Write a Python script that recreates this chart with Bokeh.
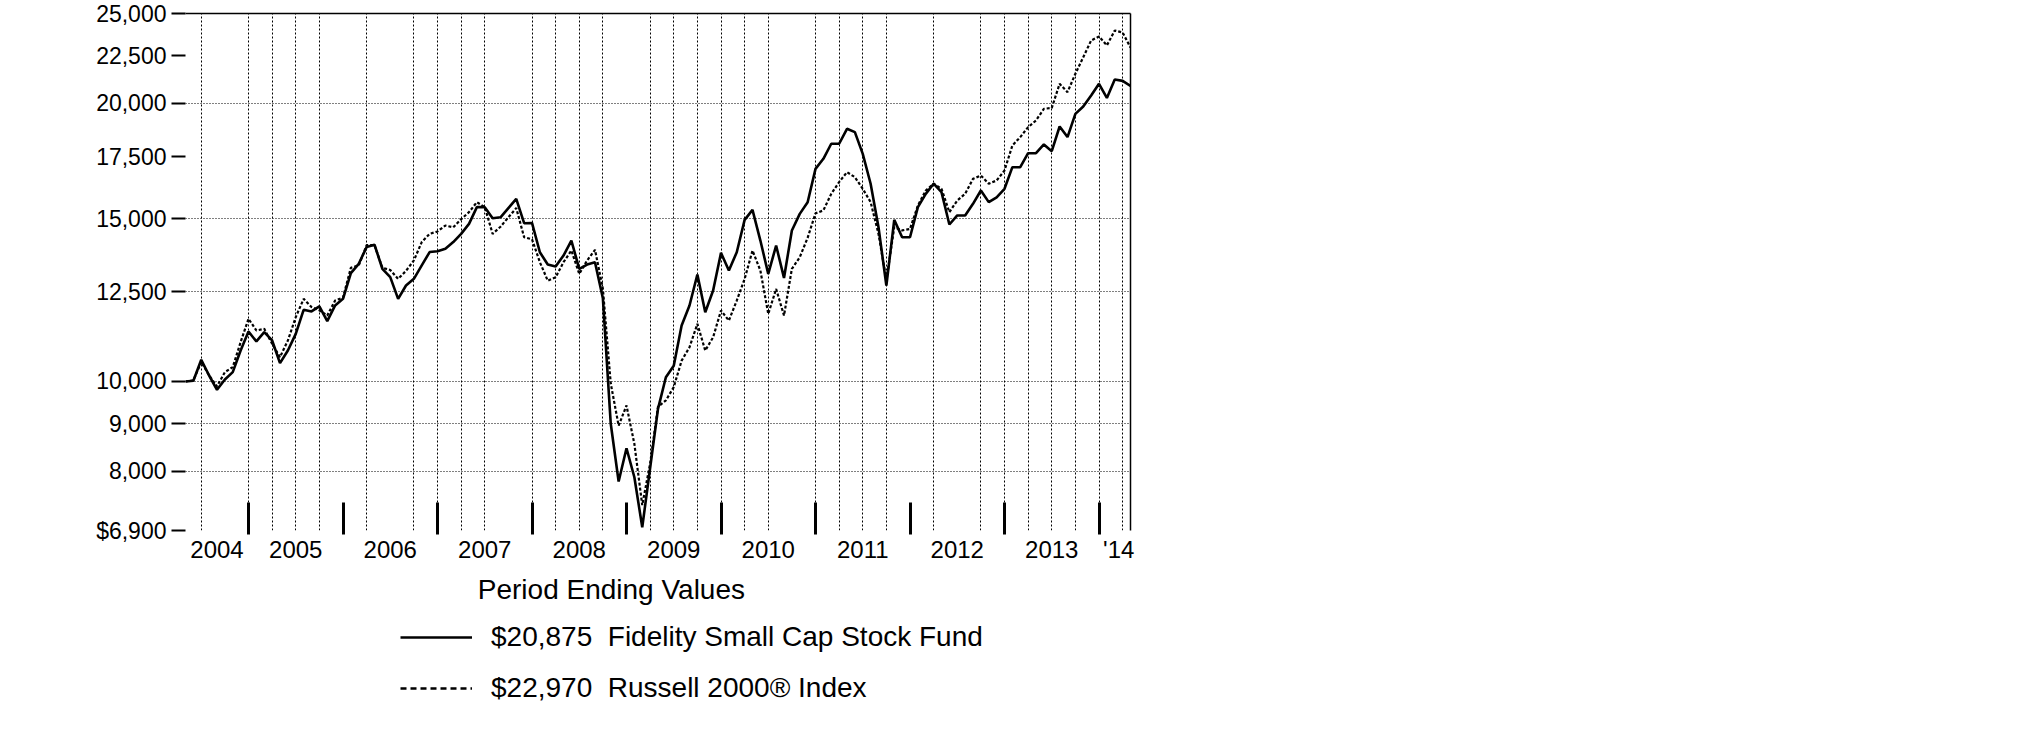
from bokeh.plotting import figure
from bokeh.layouts import column
from bokeh.models import (FixedTicker, LinearAxis, LogAxis, Legend, LegendItem,
                          Range1d, ColumnDataSource)
from bokeh.embed import file_html
from bokeh.resources import INLINE

# months since Apr 30, 2004 (0) .. Apr 30, 2014 (120)
months = list(range(121))

fund = [10000, 10020, 10554, 10150, 9795, 10050, 10235, 10802, 11326, 11048,
        11306, 11075, 10467, 10802, 11260, 11953, 11905, 12055, 11621, 12085,
        12284, 13097, 13405, 13975, 14057, 13240, 12967, 12284, 12700, 12913,
        13350, 13802, 13830, 13917, 14150, 14443, 14806, 15435, 15435, 15016,
        15050, 15400, 15757, 14831, 14840, 13796, 13381, 13313, 13682, 14203,
        13238, 13381, 13458, 12300, 9000, 7795, 8469, 7878, 6956, 8060,
        9340, 10106, 10402, 11494, 12083, 13052, 11882, 12541, 13774, 13182,
        13796, 14955, 15331, 14203, 13073, 14028, 12942, 14562, 15180, 15627,
        16978, 17410, 18075, 18075, 18761, 18606, 17626, 16363, 14685, 12700,
        14955, 14321, 14321, 15434, 15955, 16363, 16021, 14783, 15120, 15120,
        15565, 16088, 15630, 15820, 16157, 17051, 17051, 17655, 17655, 18044,
        17746, 18869, 18378, 19471, 19832, 20381, 20984, 20262, 21213, 21140,
        20875]

russell = [10000, 10030, 10500, 10150, 9880, 10235, 10364, 11030, 11690, 11355,
           11400, 10983, 10625, 11075, 11738, 12284, 12036, 11940, 11786, 12234,
           12320, 13273, 13350, 14040, 14040, 13273, 13200, 12913, 13170, 13517,
           14150, 14443, 14528, 14745, 14680, 14980, 15244, 15628, 15435, 14443,
           14700, 15050, 15400, 14322, 14250, 13458, 12853, 12961, 13458, 13854,
           13073, 13515, 13880, 12600, 9950, 8959, 9419, 8560, 7350, 8150,
           9390, 9538, 9861, 10532, 10891, 11541, 10801, 11164, 11932, 11637,
           12232, 12910, 13854, 13182, 11833, 12591, 11784, 13238, 13626, 14300,
           15200, 15310, 15955, 16430, 16842, 16633, 16157, 15630, 14442, 12860,
           14685, 14567, 14620, 15498, 16088, 16363, 16157, 15243, 15692, 15955,
           16564, 16700, 16363, 16495, 16911, 17997, 18378, 18840, 19154, 19717,
           19760, 20984, 20555, 21515, 22424, 23376, 23608, 23087, 23965, 23840,
           22970]

y_tick_values = [6900, 8000, 9000, 10000, 12500, 15000, 17500, 20000, 22500, 25000]
y_tick_labels = ["$6,900", "8,000", "9,000", "10,000", "12,500", "15,000",
                 "17,500", "20,000", "22,500", "25,000"]
y_grid_values = [8000, 9000, 10000, 12500, 15000, 20000]

year_label_pos = [4, 14, 26, 38, 50, 62, 74, 86, 98, 110, 118.5]
year_labels = ["2004", "2005", "2006", "2007", "2008", "2009", "2010", "2011",
               "2012", "2013", "'14"]
year_end_pos = [8, 20, 32, 44, 56, 68, 80, 92, 104, 116]
x_grid_pos = [2, 8, 11, 14, 17, 23, 29, 32, 35, 38, 44, 47, 50, 53, 59, 62, 65,
              68, 71, 74, 80, 83, 86, 89, 95, 101, 104, 107, 110, 113, 116, 119]

fund_label = "$20,875\u00a0\u00a0Fidelity Small Cap Stock Fund"
index_label = "$22,970\u00a0\u00a0Russell 2000\u00ae Index"
legend_title = "\u00a0" * 10 + "Period Ending Values"

FONT = "Liberation Sans"
FUND_STYLE = dict(line_color="black", line_width=2.6)
INDEX_STYLE = dict(line_color="black", line_width=2.2, line_dash="3 2")
INDEX_KEY_STYLE = dict(line_color="black", line_width=2.4, line_dash="6 4")

p = figure(width=1190, height=575, y_axis_type="log",
           x_range=Range1d(0, 120), y_range=Range1d(6900, 25000),
           output_backend="svg", toolbar_location=None,
           min_border_left=185, min_border_right=60, min_border_top=13,
           min_border_bottom=45,
           background_fill_color="white", border_fill_color="white",
           outline_line_color=None)

# bottom axis: year labels + heavy year-end ticks
xa = p.xaxis[0]
xa.ticker = FixedTicker(ticks=year_label_pos, minor_ticks=year_end_pos)
xa.major_label_overrides = {k: v for k, v in zip(year_label_pos, year_labels)}
xa.axis_line_color = None
xa.major_tick_in = 0
xa.major_tick_out = 0
xa.minor_tick_in = 28
xa.minor_tick_out = 4
xa.minor_tick_line_width = 3
xa.minor_tick_line_color = "black"
xa.major_label_text_font = FONT
xa.major_label_text_font_size = "24px"
xa.major_label_text_color = "black"
xa.major_label_standoff = 1

# left axis
ya = p.yaxis[0]
ya.ticker = FixedTicker(ticks=y_tick_values)
ya.major_label_overrides = {k: v for k, v in zip(y_tick_values, y_tick_labels)}
ya.axis_line_color = None
ya.major_tick_in = 0
ya.major_tick_out = 14
ya.major_tick_line_width = 2
ya.major_tick_line_color = "black"
ya.minor_tick_line_color = None
ya.major_label_text_font = FONT
ya.major_label_text_font_size = "23px"
ya.major_label_text_color = "black"
ya.major_label_standoff = 5

# top and right frame lines
top = LinearAxis(ticker=FixedTicker(ticks=[]), axis_line_width=1.5,
                 axis_line_color="black", major_tick_in=0, major_tick_out=0,
                 minor_tick_in=0, minor_tick_out=0,
                 major_label_text_font_size="0px")
p.add_layout(top, "above")
right = LogAxis(ticker=FixedTicker(ticks=[]), axis_line_width=1.5,
                axis_line_color="black", major_tick_in=0, major_tick_out=0,
                minor_tick_in=0, minor_tick_out=0,
                major_label_text_font_size="0px")
p.add_layout(right, "right")

# grids
p.xgrid.ticker = FixedTicker(ticks=x_grid_pos)
p.xgrid.grid_line_color = "black"
p.xgrid.grid_line_width = 1
p.xgrid.grid_line_dash = "2 2"
p.ygrid.ticker = FixedTicker(ticks=y_grid_values)
p.ygrid.grid_line_color = "black"
p.ygrid.grid_line_width = 1
p.ygrid.grid_line_dash = "1 2"

src = ColumnDataSource(dict(month=months, fund=fund, russell=russell))
p.line("month", "russell", source=src, **INDEX_STYLE)
p.line("month", "fund", source=src, **FUND_STYLE)

# legend panel below the chart (same series; its ranges keep them out of view,
# so only the legend keys are drawn)
leg = figure(width=1190, height=154, x_range=Range1d(-2, -1), y_range=Range1d(0, 1),
             output_backend="svg", toolbar_location=None,
             x_axis_location=None, y_axis_location=None,
             min_border_left=185, min_border_right=60, min_border_top=0,
             min_border_bottom=0,
             background_fill_color="white", border_fill_color="white",
             outline_line_color=None)
leg.grid.visible = False
k2 = leg.line("month", "russell", source=src, **INDEX_KEY_STYLE)
k1 = leg.line("month", "fund", source=src, **FUND_STYLE)
legend = Legend(items=[LegendItem(label=fund_label, renderers=[k1]),
                       LegendItem(label=index_label, renderers=[k2])],
                title=legend_title, location=(215, 25),
                orientation="vertical",
                border_line_color=None, background_fill_alpha=0,
                padding=0, margin=0, spacing=19,
                glyph_width=72, glyph_height=20, label_standoff=19,
                label_text_font=FONT, label_text_font_size="28px",
                label_text_color="black",
                title_text_font=FONT, title_text_font_size="28px",
                title_text_font_style="normal", title_text_color="black",
                title_standoff=15)
leg.add_layout(legend, "center")

layout = column(p, leg, spacing=0)
open("out.html", "w").write(file_html(layout, INLINE))
